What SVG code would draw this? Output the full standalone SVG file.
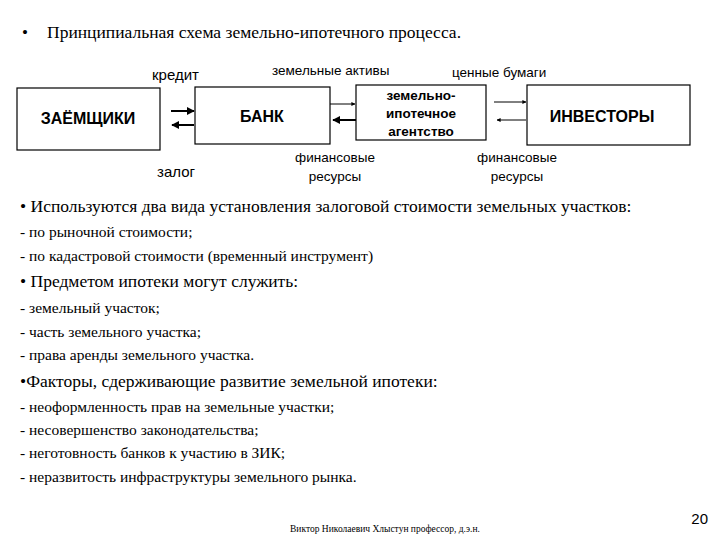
<svg xmlns="http://www.w3.org/2000/svg" width="720" height="540" viewBox="0 0 720 540">
<style>
.b{fill:#fff;stroke:#000;stroke-width:1.2}
.s{font-family:"Liberation Sans",Arial,sans-serif;fill:#000}
.t{font-family:"Liberation Serif","Times New Roman",serif;fill:#000}
.c{stroke:#000;stroke-width:2;marker-end:url(#a)}
.h{font-size:17.5px}
.i{font-size:15.5px}
</style>
<defs><marker id="a" viewBox="0 0 10 10" refX="9" refY="5" markerWidth="4" markerHeight="4" orient="auto"><path d="M0,0L10,5L0,10z"/></marker></defs>
<rect width="720" height="540" fill="#fff"/>
<text class="t" x="22" y="38" font-size="17">•</text>
<text class="t" x="47" y="38" font-size="17.5">Принципиальная схема земельно-ипотечного процесса.</text>
<g id="n1"><rect class="b" x="17" y="88" width="143" height="62"/><text class="s" x="88" y="124" font-size="16" font-weight="bold" text-anchor="middle">ЗАЁМЩИКИ</text></g>
<g id="n2"><rect class="b" x="195" y="87" width="135" height="57"/><text class="s" x="262" y="122" font-size="16" font-weight="bold" text-anchor="middle">БАНК</text></g>
<g id="n3"><rect class="b" x="356" y="85" width="130" height="55"/><text class="s" x="421" y="100" font-size="13.5" font-weight="bold" text-anchor="middle">земельно-</text><text class="s" x="421" y="118" font-size="13.5" font-weight="bold" text-anchor="middle">ипотечное</text><text class="s" x="421" y="136" font-size="13.5" font-weight="bold" text-anchor="middle">агентство</text></g>
<g id="n4"><rect class="b" x="527" y="85" width="163" height="60"/><text class="s" x="602" y="122" font-size="16" font-weight="bold" text-anchor="middle">ИНВЕСТОРЫ</text></g>
<g id="connectors">
<line class="c" x1="171" y1="111" x2="194" y2="111"/>
<line class="c" x1="194" y1="125" x2="172" y2="125"/>
<line class="c" x1="330" y1="104" x2="355" y2="104" style="stroke-width:1"/>
<line class="c" x1="356" y1="120" x2="333" y2="120"/>
<line class="c" x1="494" y1="102" x2="526" y2="102" style="stroke-width:1"/>
<line class="c" x1="526" y1="120" x2="497" y2="120" style="stroke-width:1"/>
</g>
<g class="s" font-size="14">
<text x="152" y="80" font-size="15">кредит</text>
<text x="157" y="177" font-size="15">залог</text>
<text x="272" y="75" font-size="13.5">земельные активы</text>
<text x="452" y="77" font-size="13.5">ценные бумаги</text>
<text x="335" y="162" font-size="13.5" text-anchor="middle">финансовые</text>
<text x="335" y="181" font-size="13.5" text-anchor="middle">ресурсы</text>
<text x="517" y="162" font-size="13.5" text-anchor="middle">финансовые</text>
<text x="517" y="181" font-size="13.5" text-anchor="middle">ресурсы</text>
</g>
<g class="t">
<text class="h" x="20" y="212">• Используются два вида установления залоговой стоимости земельных участков:</text>
<text class="i" x="20" y="237">- по рыночной стоимости;</text>
<text class="i" x="20" y="261">- по кадастровой стоимости (временный инструмент)</text>
<text class="h" x="20" y="287">• Предметом ипотеки могут служить:</text>
<text class="i" x="20" y="313">- земельный участок;</text>
<text class="i" x="20" y="337">- часть земельного участка;</text>
<text class="i" x="20" y="360">- права аренды земельного участка.</text>
<text class="h" x="20" y="387">•Факторы, сдерживающие развитие земельной ипотеки:</text>
<text class="i" x="20" y="412">-  неоформленность прав на земельные участки;</text>
<text class="i" x="20" y="435">- несовершенство законодательства;</text>
<text class="i" x="20" y="458">- неготовность банков к участию в ЗИК;</text>
<text class="i" x="20" y="482">- неразвитость инфраструктуры земельного рынка.</text>
<text x="290" y="532" font-size="9.5">Виктор Николаевич Хлыстун профессор, д.э.н.</text>
</g>
<text class="s" x="708" y="524" font-size="15" text-anchor="end">20</text>
</svg>
